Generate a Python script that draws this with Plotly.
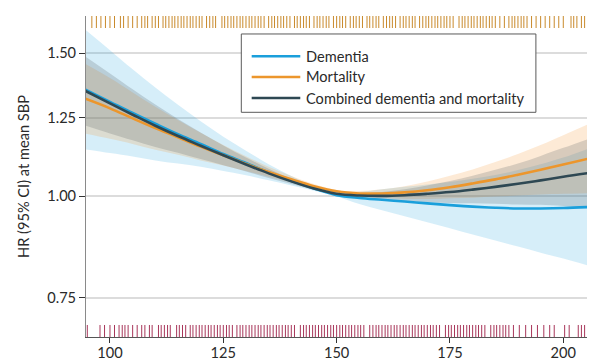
import plotly.graph_objects as go

# ---------------- data ----------------
sbp = [94, 100, 105, 110, 115, 120, 125, 130, 135, 140, 145, 150,
       155, 160, 165, 170, 175, 180, 185, 190, 195, 200, 206]

dementia_hr = [1.358, 1.307, 1.266, 1.228, 1.192, 1.160, 1.127, 1.099, 1.070, 1.045, 1.022, 1.003,
               0.995, 0.990, 0.985, 0.980, 0.975, 0.971, 0.968, 0.966, 0.966, 0.967, 0.970]
dementia_lo = [1.143, 1.130, 1.119, 1.107, 1.097, 1.087, 1.074, 1.061, 1.046, 1.031, 1.016, 0.999,
               0.978, 0.961, 0.945, 0.929, 0.913, 0.897, 0.882, 0.867, 0.852, 0.838, 0.820]
dementia_hi = [1.613, 1.513, 1.433, 1.361, 1.296, 1.237, 1.184, 1.138, 1.095, 1.059, 1.028, 1.007,
               1.012, 1.020, 1.027, 1.034, 1.041, 1.051, 1.062, 1.077, 1.095, 1.116, 1.147]

mortality_hr = [1.322, 1.283, 1.247, 1.213, 1.182, 1.151, 1.123, 1.096, 1.071, 1.049, 1.029, 1.014,
                1.008, 1.008, 1.011, 1.017, 1.026, 1.037, 1.049, 1.063, 1.078, 1.094, 1.114]
mortality_lo = [1.196, 1.177, 1.160, 1.141, 1.125, 1.107, 1.091, 1.074, 1.057, 1.040, 1.024, 1.010,
                1.001, 0.996, 0.993, 0.992, 0.994, 0.996, 0.999, 1.002, 1.005, 1.007, 1.009]
mortality_hi = [1.461, 1.398, 1.342, 1.289, 1.241, 1.197, 1.156, 1.120, 1.087, 1.059, 1.035, 1.018,
                1.015, 1.020, 1.029, 1.043, 1.060, 1.079, 1.102, 1.127, 1.156, 1.189, 1.230]

combined_hr = [1.353, 1.301, 1.260, 1.221, 1.186, 1.154, 1.123, 1.094, 1.067, 1.043, 1.022, 1.007,
               1.002, 1.001, 1.003, 1.007, 1.012, 1.019, 1.027, 1.036, 1.046, 1.057, 1.069]
combined_lo = [1.225, 1.195, 1.172, 1.150, 1.131, 1.111, 1.092, 1.073, 1.053, 1.035, 1.018, 1.004,
               0.996, 0.990, 0.986, 0.983, 0.981, 0.980, 0.979, 0.977, 0.976, 0.973, 0.969]
combined_hi = [1.493, 1.416, 1.354, 1.297, 1.245, 1.198, 1.155, 1.116, 1.081, 1.051, 1.026, 1.010,
               1.008, 1.012, 1.020, 1.031, 1.044, 1.060, 1.078, 1.097, 1.121, 1.147, 1.179]

# rug of SBP values (top: mortality events, bottom: dementia events)
rug_top = [96, 97, 98, 99, 100, 101, 102.3, 103, 104, 105, 106, 107, 107.7, 108.3, 109.3, 110,
           110.7, 111.7, 112.3, 113, 113.7, 114.3, 115, 115.7, 116.3, 117, 117.7, 118.3, 119, 119.7,
           120.3, 121.3, 122, 122.7, 123.3, 124.7, 125.3, 126, 126.7, 127.3, 128, 128.7, 129.3, 130,
           130.7, 131.3, 132, 132.7, 133.3, 134, 135, 135.7, 136.3, 137, 137.7, 138.3, 139, 139.7,
           140.7, 141.3, 142, 142.7, 143.3, 144, 145, 145.7, 146.3, 147, 147.7, 148.3, 149.3, 150,
           150.7, 151.3, 152, 153, 153.7, 154.3, 155, 155.7, 156.7, 157.3, 158, 158.7, 159.3, 160.3,
           161, 161.7, 162.3, 163, 164, 164.7, 165.3, 166, 166.7, 167.3, 168.3, 169, 169.7, 170.3,
           171, 171.7, 172.3, 173, 173.7, 174.3, 175, 175.7, 177, 177.7, 178.3, 179, 179.7, 180.3,
           181, 181.7, 182.3, 183, 183.7, 184.3, 185, 186, 187, 188, 188.7, 189.3, 190, 190.7,
           191.3, 192, 193, 194, 195, 196, 197, 198, 199, 200, 201.7, 202.3, 203, 204, 204.7]
rug_bottom = [95, 97.8, 98.8, 100, 101, 102, 102.7, 103.3, 104, 105, 106, 107, 107.7, 108.7, 109.3,
              110.7, 111.3, 112, 112.7, 113.3, 114.7, 115.3, 116, 116.7, 117.7, 118.3, 119, 119.7,
              120.3, 121, 121.7, 122.3, 123, 123.7, 124.3, 125, 125.7, 126.3, 127, 128, 128.7, 129.3,
              130, 130.7, 131.3, 132, 132.7, 133.3, 134, 134.7, 135.3, 136, 136.7, 137.3, 138, 138.7,
              139.3, 140, 140.7, 142, 142.7, 143.3, 144, 144.7, 145.3, 146, 146.7, 147.3, 148, 148.7,
              149.3, 150, 150.7, 151.3, 152, 152.7, 153.3, 154, 154.7, 155.3, 156, 157.3, 158, 158.7,
              159.3, 160, 160.7, 161.3, 162, 162.7, 163.3, 164, 164.7, 165.3, 166, 166.7, 167.3, 168,
              168.7, 169.3, 170, 170.7, 171.3, 172, 172.7, 174, 174.7, 175.3, 176, 176.7, 177.3, 178,
              178.7, 179.3, 180, 180.7, 181.3, 182, 182.7, 184, 184.7, 185.3, 186, 186.7, 187.3, 188,
              189, 190.3, 191.7, 193, 194.3, 195.7, 197, 198, 200.3, 201.3, 203.3, 204, 204.7]

x_ticks = [100, 125, 150, 175, 200]
y_ticks = [0.75, 1.00, 1.25, 1.50]
y_tick_labels = ["0.75", "1.00", "1.25", "1.50"]

series = [
    ("Dementia", dementia_hr, dementia_lo, dementia_hi, "#1A9FDB", "rgba(26,160,220,0.18)"),
    ("Mortality", mortality_hr, mortality_lo, mortality_hi, "#EC962C", "rgba(245,150,50,0.20)"),
    ("Combined dementia and mortality", combined_hr, combined_lo, combined_hi, "#2E4853",
     "rgba(70,78,85,0.20)"),
]

FONT = "Lato"
FS = 14.6
fig = go.Figure()

# confidence bands
for name, hr, lo, hi, col, band in series:
    fig.add_trace(go.Scatter(x=sbp, y=lo, mode="lines", line=dict(width=0, shape="spline"),
                             showlegend=False, hoverinfo="skip"))
    fig.add_trace(go.Scatter(x=sbp, y=hi, mode="lines", line=dict(width=0, shape="spline"),
                             fill="tonexty", fillcolor=band, showlegend=False, hoverinfo="skip"))

# central lines
for name, hr, lo, hi, col, band in series:
    fig.add_trace(go.Scatter(x=sbp, y=hr, mode="lines", name=name,
                             line=dict(color=col, width=2.6, shape="spline"), showlegend=False))

# rugs
fig.add_trace(go.Scatter(x=rug_top, y=[0.9844] * len(rug_top), yaxis="y2", mode="markers",
                         marker=dict(symbol="line-ns", size=10,
                                     line=dict(color="#C98A2C", width=1)),
                         showlegend=False, hoverinfo="skip"))
fig.add_trace(go.Scatter(x=rug_bottom, y=[0.0156] * len(rug_bottom), yaxis="y2", mode="markers",
                         marker=dict(symbol="line-ns", size=10,
                                     line=dict(color="#A8365A", width=1)),
                         showlegend=False, hoverinfo="skip"))

# custom legend (paper coords)
shapes = [dict(type="rect", xref="paper", yref="paper", x0=0.310, x1=0.898, y0=0.700, y1=0.944,
               fillcolor="white", line=dict(color="#5a5a5a", width=1), layer="above")]
rows = [0.8745, 0.810, 0.7445]
annotations = []
for (name, hr, lo, hi, col, band), yy in zip(series, rows):
    shapes.append(dict(type="line", xref="paper", yref="paper", x0=0.3307, x1=0.4277, y0=yy, y1=yy,
                       line=dict(color=col, width=2.6), layer="above"))
    annotations.append(dict(xref="paper", yref="paper", x=0.4351, y=yy, text=name, showarrow=False,
                            xanchor="left", yanchor="middle",
                            font=dict(family=FONT, size=FS, color="#2a2a2a")))

# page body has an 8px margin: the figure is sized/offset so the plot area lands
# at the same screen position as in the reference
fig.update_layout(
    width=596, height=353,
    margin=dict(l=78, r=17, t=8, b=24),
    paper_bgcolor="white", plot_bgcolor="white",
    font=dict(family=FONT, size=FS, color="#2a2a2a"),
    showlegend=False,
    shapes=shapes, annotations=annotations,
    xaxis=dict(range=[94.71, 205.23], tickvals=x_ticks, showgrid=False, zeroline=False,
               showline=True, linecolor="#555555", linewidth=1, ticks="outside", ticklen=5,
               tickcolor="#333333", tickwidth=1, tickfont=dict(size=FS), automargin=False,
               ticklabelstandoff=-3),
    yaxis=dict(type="log", range=[-0.1733, 0.2219], tickvals=y_ticks, ticktext=y_tick_labels,
               showgrid=True, gridcolor="#DCDCDC", gridwidth=2, zeroline=False,
               showline=True, linecolor="#8a8a8a", linewidth=1, ticks="outside", ticklen=6,
               tickcolor="#333333", tickwidth=1, tickfont=dict(size=FS), automargin=False,
               title=dict(text="HR (95% CI) at mean SBP", standoff=14, font=dict(size=FS))),
    yaxis2=dict(range=[0, 1], overlaying="y", visible=False),
)

fig.write_html("out.html")
